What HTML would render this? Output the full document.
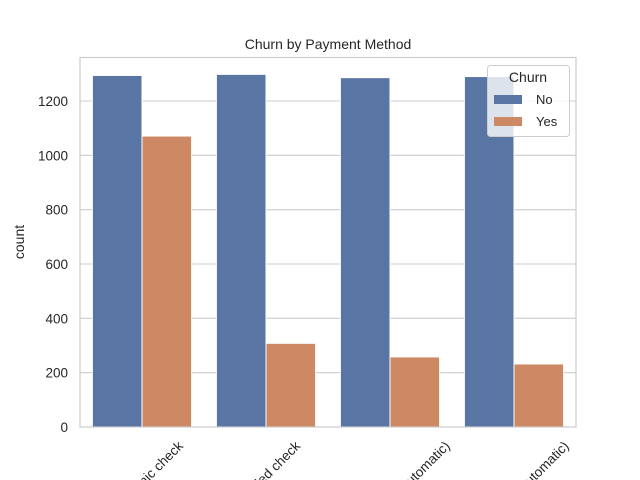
<!DOCTYPE html>
<html><head><meta charset="utf-8"><style>
html,body{margin:0;background:#fff;width:640px;height:480px;overflow:hidden}
svg{font-family:"Liberation Sans","DejaVu Sans",sans-serif;display:block}
</style></head><body>
<svg id="c" width="640" height="480">
<rect width="640" height="480" fill="#fff"/>
<g id="grid"></g>
<g id="bars"></g>
<rect x="80" y="57.5" width="496" height="369.5" fill="none" stroke="#cccccc" stroke-width="1.2"/>
<g id="yt"></g>
<g id="xt"></g>
<text x="328" y="49" text-anchor="middle" font-size="14" fill="#262626">Churn by Payment Method</text>
<text x="24" y="242" text-anchor="middle" font-size="14" fill="#262626" transform="rotate(-90 24 242)">count</text>
<g>
<rect x="487.5" y="65.5" width="82" height="71" rx="3" fill="#fff" fill-opacity="0.8" stroke="#cccccc"/>
<text x="528" y="82" text-anchor="middle" font-size="14" fill="#262626">Churn</text>
<rect x="494" y="95" width="28" height="9" fill="#5875a4"/>
<text x="536" y="104" font-size="13" fill="#262626">No</text>
<rect x="494" y="117" width="28" height="9" fill="#cc8963"/>
<text x="536" y="126" font-size="13" fill="#262626">Yes</text>
</g>
</svg>
<script>
const categories=["Electronic check","Mailed check","Bank transfer (automatic)","Credit card (automatic)"];
const noValues=[1294,1298,1286,1290];
const yesValues=[1071,308,258,232];
const yTicks=[0,200,400,600,800,1000,1200];
const NS="http://www.w3.org/2000/svg";
const L=80,R=576,B=427,ppu=326/1200;
const y=v=>B-v*ppu;
const bw=(R-L)/categories.length;
const x=i=>L+bw*i;
function mk(t,a,p){const e=document.createElementNS(NS,t);for(const k in a)e.setAttribute(k,a[k]);p.appendChild(e);return e;}
const grid=document.getElementById('grid'),yt=document.getElementById('yt'),bars=document.getElementById('bars'),xt=document.getElementById('xt');
yTicks.forEach(v=>{
 const g=mk('line',{x1:L,x2:R,y1:y(v),y2:y(v),stroke:'#cccccc','stroke-width':1.1},grid);
 
 
 const t=mk('text',{x:L-12,y:y(v)+5,'text-anchor':'end','font-size':13.5,fill:'#262626'},yt);
 t.textContent=v;
 
 
});
categories.forEach((c,i)=>{
 const w=bw*0.4,x0=x(i)+bw*0.1;
 const b1=mk('rect',{x:x0,y:y(noValues[i]),width:w,height:B-y(noValues[i]),fill:'#5875a4',stroke:'#fff','stroke-width':1},bars);
 
 
 const b2=mk('rect',{x:x0+w,y:y(yesValues[i]),width:w,height:B-y(yesValues[i]),fill:'#cc8963',stroke:'#fff','stroke-width':1},bars);
 
 
 const t=mk('text',{'text-anchor':'middle','font-size':13.5,fill:'#262626'},xt);
 t.textContent=c;
 
 
 const len=t.getComputedTextLength();
 const cx=x(i)+bw/2+4;
 const cy=439+(len+13)*0.707/2;
 t.setAttribute('x',cx);t.setAttribute('y',cy+4.5);
 t.setAttribute('transform','rotate(-45 '+cx+' '+cy+')');
});
</script>
</body></html>
